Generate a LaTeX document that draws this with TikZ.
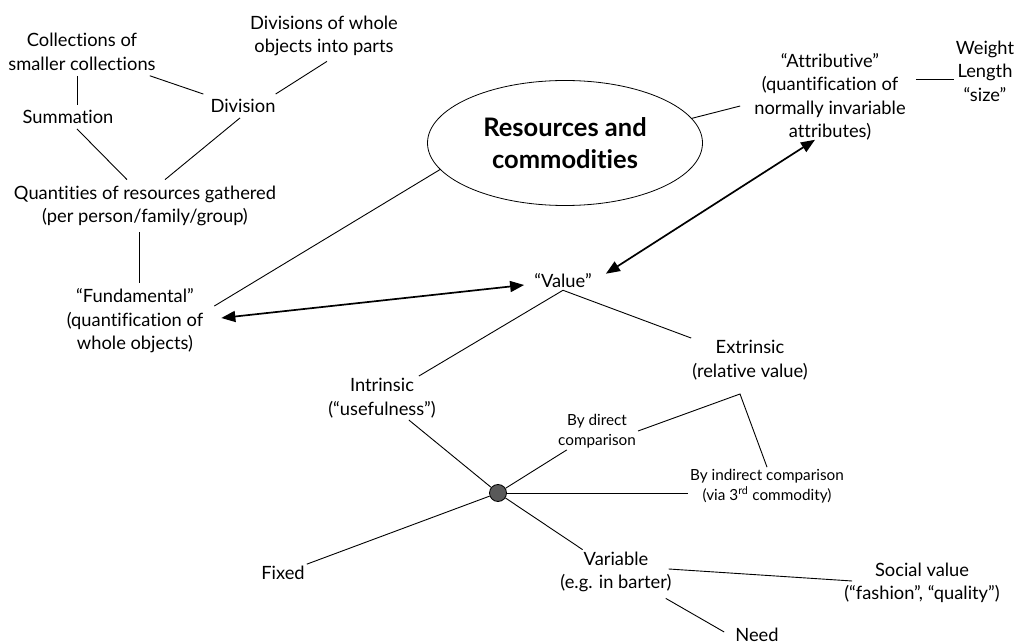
\documentclass[tikz,border=0pt]{standalone}
\usepackage{fontspec}
\setmainfont{Lato}[Ligatures=NoCommon]
\usetikzlibrary{shapes.geometric,arrows.meta,calc}

\tikzset{
  lbl/.style={align=center, inner sep=2pt, font=\fontsize{18.3}{23.5}\selectfont},
  lblsmall/.style={align=center, inner sep=2pt, font=\fontsize{15.3}{19.5}\selectfont},
  link/.style={line width=0.9pt},
  twoway/.style={{Triangle[length=14pt,width=11pt]}-{Triangle[length=14pt,width=11pt]}, line width=1.7pt}
}

\begin{document}
\begin{tikzpicture}[x=1pt,y=-1pt]
        \useasboundingbox (0,0) rectangle (1018,644);

        \node[lbl] (coll) at (82,52) {Collections of\\smaller collections};
        \node[lbl] (divs) at (324,36) {Divisions of whole\\objects into parts};
        \node[lbl] (summ) at (68,117) {Summation};
        \node[lbl] (divi) at (243,106) {Division};
        \node[lbl] (quant) at (145,206) {Quantities of resources gathered\\(per person/family/group)};
        \node[lbl] (fund) at (135,321) {“Fundamental”\\(quantification of\\whole objects)};

        \node[draw, ellipse, line width=0.8pt, minimum width=275pt, minimum height=125pt, inner sep=0pt,
              align=center, font=\bfseries\fontsize{25.5}{32}\selectfont] (res) at (565,143) {Resources and\\commodities};

        \node[lbl] (attr) at (830,97) {“Attributive”\\(quantification of\\normally invariable\\attributes)};
        \node[lbl] (size) at (985,71) {Weight\\Length\\“size”};

        \node[lbl] (value) at (563,281) {“Value”};
        \node[lbl] (intr) at (382,398) {Intrinsic\\(“usefulness”)};
        \node[lbl] (extr) at (750,360) {Extrinsic\\(relative value)};

        \node[draw, circle, fill=black!65, line width=0.8pt, minimum size=17pt, inner sep=0pt] (hub) at (498,493) {};

        \node[lblsmall] (direct) at (597,431) {By direct\\comparison};
        \node[lblsmall] (indir) at (767,486) {By indirect comparison\\(via 3\textsuperscript{rd} commodity)};
        \node[lbl] (fixed) at (283,573) {Fixed};
        \node[lbl] (var) at (616,572) {Variable\\(e.g. in barter)};
        \node[lbl] (social) at (922,583) {Social value\\(“fashion”, “quality”)};
        \node[lbl] (need) at (757,635) {Need};

        \coordinate (fork) at (740,394);

        \draw[link] ($(coll.south)+(-5,3)$) -- ($(summ.north)+(9,-3)$);
        \draw[link] ($(coll.south east)+(-8,3)$) -- ($(divi.north west)+(-5,-3)$);
        \draw[link] ($(divs.south)+(3,3)$) -- ($(divi.north east)+(-2,-3)$);
        \draw[link] ($(summ.south)+(9,3)$) -- ($(quant.north)+(-18,-4)$);
        \draw[link] ($(divi.south)+(-3,3)$) -- ($(quant.north)+(20,-4)$);
        \draw[link] ($(fund.north)+(4,-4)$) -- ($(fund.north |- quant.south)+(4,4)$);
        \draw[link] (res.192) -- ($(fund.east)+(9,-15)$);
        \draw[link] (res.11) -- ($(attr.west)+(-12,9)$);
        \draw[link] ($(attr.east |- size.west)+(8,8)$) -- ($(size.west)+(0,8)$);

        \draw[twoway] ($(fund.east)+(16,-3)$) -- ($(value.west)+(-8,4)$);
        \draw[twoway] ($(value.north east)+(12,2)$) -- ($(attr.south)+(-15,-3)$);

        \draw[link] (value.south) -- (intr);
        \draw[link] (value.south) -- (extr);
        \draw[link] (intr) -- (hub);
        \draw[link] (hub) -- (fixed);
        \draw[link] (hub) -- (direct);
        \draw[link] (hub) -- (hub -| indir.west);
        \draw[link] (hub) -- (var);
        \draw[link] (direct.east) -- (fork) -- (indir.north);
        \draw[link] ($(var.east)+(-5,-3)$) -- ($(social.west)+(10,-2)$);
        \draw[link] ($(var.south east)+(-8,4)$) -- ($(need.west)+(-9,-3)$);

\end{tikzpicture}
\end{document}
